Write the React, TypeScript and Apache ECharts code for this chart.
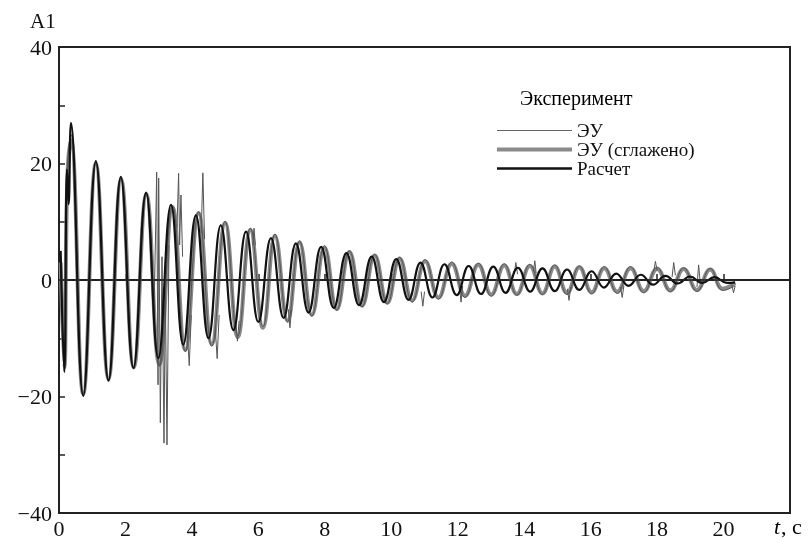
import React, { useEffect, useRef } from "react";
import * as echarts from "echarts";

// x-axis tick values (s) and y-axis tick values
const xTickValues = [0, 2, 4, 6, 8, 10, 12, 14, 16, 18, 20];
const yLabelValues = [-40, -20, 0, 20, 40];

// Расчет (calculation): peaks / troughs [t, A1]
const calcPts: [number, number][] = [
  [0.05, 5], [0.16, -15.8], [0.24, 19], [0.29, 13], [0.36, 27], [0.73, -19.9],
  [1.11, 20.4], [1.49, -17.3], [1.86, 17.7], [2.24, -15.1], [2.62, 15.0],
  [2.99, -13.4], [3.37, 12.9], [3.74, -11.1], [4.12, 11.1], [4.5, -10.0],
  [4.87, 9.4], [5.25, -8.6], [5.63, 8.3], [6.0, -7.2], [6.38, 7.2], [6.76, -6.5],
  [7.13, 6.3], [7.51, -5.6], [7.89, 5.7], [8.27, -4.8], [8.65, 4.6], [9.03, -4.3],
  [9.41, 4.0], [9.78, -3.8], [10.15, 3.6], [10.52, -3.4], [10.88, 3.0],
  [11.24, -3.0], [11.6, 2.7], [11.97, -2.6], [12.33, 2.4], [12.7, -2.4],
  [13.07, 2.3], [13.44, -2.2], [13.81, 2.1], [14.18, -2.0], [14.55, 2.0],
  [14.92, -1.9], [15.29, 1.8], [15.66, -1.7], [16.03, 1.5], [16.4, -1.3],
  [16.77, 1.1], [17.14, -1.0], [17.51, 0.9], [17.88, -0.8], [18.25, 0.7],
  [18.62, -0.6], [18.99, 0.6], [19.36, -0.5], [19.73, 0.5], [20.1, -0.5],
  [20.35, -0.4],
];

// ЭУ (сглажено): smoothed experiment, peaks / troughs [t, A1]
const smoothPts: [number, number][] = [
  [0.05, 3], [0.16, -15], [0.25, 17], [0.36, 24], [0.73, -19.5], [1.11, 20],
  [1.49, -17], [1.87, 17.3], [2.25, -15], [2.63, 14.7], [3.02, -14.5],
  [3.42, 12.5], [3.8, -12], [4.2, 11.5], [4.6, -11], [5.0, 9.8],
  [5.38, -9.8], [5.76, 8.6], [6.14, -8.2], [6.5, 7.6], [6.88, -7],
  [7.24, 6.5], [7.61, -6.0], [7.99, 5.6], [8.36, -5.0], [8.74, 4.8],
  [9.12, -4.4], [9.5, 4.2], [9.88, -3.9], [10.25, 3.7], [10.63, -3.5],
  [11.02, 3.2], [11.42, -3.0], [11.82, 2.8], [12.22, -2.7], [12.62, 2.6],
  [13.01, -2.5], [13.4, 2.5], [13.78, -2.4], [14.17, 2.4], [14.55, -2.3],
  [14.92, 2.3], [15.29, -2.2], [15.66, 2.2], [16.03, -2.1], [16.41, 2.0],
  [16.8, -2.0], [17.2, 2.0], [17.6, -1.9], [18.0, 1.9], [18.4, -1.8],
  [18.8, 1.9], [19.2, -1.7], [19.6, 1.8], [19.98, -1.5], [20.35, -0.5],
];

// ЭУ (raw experiment): the same oscillation as read, slightly noisier peaks
const rawPts: [number, number][] = [
  [0.05, 4], [0.16, -15.5], [0.24, 18], [0.36, 25], [0.73, -19.6], [1.11, 20.2],
  [1.49, -17.1], [1.87, 17.5], [2.25, -15.2], [2.63, 14.8], [3.02, -14.8],
  [3.42, 12.8], [3.8, -12.3], [4.2, 11.7], [4.6, -11.4], [5.0, 10.1],
  [5.38, -9.6], [5.76, 8.9], [6.14, -8.0], [6.5, 7.9], [6.88, -7.2],
  [7.24, 6.7], [7.61, -6.2], [7.99, 5.9], [8.36, -5.2], [8.74, 5.0],
  [9.12, -4.6], [9.5, 4.4], [9.88, -4.1], [10.25, 3.9], [10.63, -3.8],
  [11.02, 3.5], [11.42, -3.3], [11.82, 3.1], [12.22, -3.0], [12.62, 2.9],
  [13.01, -2.8], [13.4, 2.8], [13.78, -2.6], [14.17, 2.7], [14.55, -2.5],
  [14.92, 2.6], [15.29, -2.5], [15.66, 2.4], [16.03, -2.4], [16.41, 2.3],
  [16.8, -2.3], [17.2, 2.3], [17.6, -2.2], [18.0, 2.2], [18.4, -2.0],
  [18.8, 2.1], [19.2, -2.0], [19.6, 2.0], [19.98, -1.8], [20.35, -1.0],
];

// spikes of the raw signal, each a short polyline [t, A1]
const rawSpikes: [number, number][][] = [
  [[2.86, -6], [2.94, 18.5], [2.98, -18], [3.0, 17.5], [3.05, -24.5], [3.1, 4], [3.16, -28], [3.2, -2], [3.25, -28.3], [3.31, 6]],
  [[3.55, 9], [3.6, 18.3], [3.63, 6], [3.67, 14.6], [3.72, 4]],
  [[3.84, -7], [3.92, -14.7], [3.98, -6]],
  [[4.28, 8], [4.33, 18.4], [4.38, 7]],
  [[4.7, -8], [4.76, -13.5], [4.82, -6]],
  [[5.32, -7], [5.37, -10.5], [5.42, -7]],
  [[5.83, 6], [5.87, 8.9], [5.91, 6]],
  [[6.9, -5], [6.95, -8.2], [7.0, -5]],
  [[10.9, -2], [10.95, -4.5], [11.0, -2]],
  [[12.05, -1], [12.1, -3.8], [12.15, -1]],
  [[13.7, 1], [13.75, 3.0], [13.8, 1]],
  [[14.28, 1.5], [14.32, 3.3], [14.36, 1.2]],
  [[15.3, -1.5], [15.35, -3.5], [15.4, -1.2]],
  [[16.9, -1.2], [16.95, -3.0], [17.0, -1.0]],
  [[17.9, 1.5], [17.95, 3.2], [18.0, 1.6]],
  [[18.45, 0.5], [18.5, 3.0], [18.55, 0.8]],
  [[19.2, -1.2], [19.25, 2.6], [19.3, -0.6]],
  [[20.25, -0.8], [20.3, -2.2], [20.35, -1.0]],
];

export default function App() {
  const ref = useRef<HTMLDivElement>(null);
  useEffect(() => {
    if (!ref.current) return;
    const chart = echarts.init(ref.current, undefined, { renderer: "svg" });

    const spikeData: any[] = [];
    rawSpikes.forEach((s) => {
      s.forEach((p) => spikeData.push(p));
      spikeData.push(null);
    });

    const option: any = {
      animation: false,
      grid: {
        left: 59,
        right: 18,
        top: 47,
        bottom: 28,
        show: true,
        borderColor: "#222",
        borderWidth: 2,
      },
      legend: {
        orient: "vertical",
        left: 495,
        top: 121,
        padding: 0,
        itemWidth: 75,
        itemHeight: 17,
        itemGap: 0,
        selectedMode: false,
        itemStyle: { opacity: 0 },
        data: [
          { name: "ЭУ", lineStyle: { width: 1.2, color: "#666" } },
          { name: "ЭУ (сглажено)", lineStyle: { width: 4, color: "#8a8a8a" } },
          { name: "Расчет", lineStyle: { width: 2.4, color: "#111" } },
        ],
        textStyle: { fontFamily: "Liberation Serif", fontSize: 19, color: "#111" },
      },
      xAxis: {
        type: "value",
        min: 0,
        max: 22,
        interval: 2,
        axisLine: { show: true, lineStyle: { color: "#222", width: 2 } },
        axisTick: {
          show: true,
          inside: true,
          length: 6,
          lineStyle: { color: "#222", width: 1.5 },
        },
        axisLabel: {
          margin: 4,
          fontFamily: "Liberation Serif",
          fontSize: 22,
          color: "#111",
          formatter: (v: number) => (xTickValues.indexOf(v) >= 0 ? String(v) : ""),
        },
        splitLine: { show: false },
      },
      yAxis: {
        type: "value",
        min: -40,
        max: 40,
        interval: 10,
        axisLine: { show: true, lineStyle: { color: "#222", width: 2 } },
        axisTick: {
          show: true,
          inside: true,
          length: 6,
          lineStyle: { color: "#222", width: 1.5 },
        },
        axisLabel: {
          margin: 7,
          fontFamily: "Liberation Serif",
          fontSize: 22,
          color: "#111",
          formatter: (v: number) =>
            yLabelValues.indexOf(v) >= 0 ? (v < 0 ? "\u2212" + String(-v) : String(v)) : "",
        },
        splitLine: { show: false },
      },
      graphic: [
        {
          type: "text",
          left: 30,
          top: 10,
          style: { text: "A1", fontFamily: "Liberation Serif", fontSize: 21, fill: "#111" },
        },
        {
          type: "text",
          left: 520,
          top: 88,
          style: { text: "Эксперимент", fontFamily: "Liberation Serif", fontSize: 20 },
        },
        {
          type: "text",
          left: 774,
          top: 515,
          style: { text: "t", fontFamily: "Liberation Serif", fontStyle: "italic", fontSize: 22 },
        },
        {
          type: "text",
          left: 781,
          top: 515,
          style: { text: ", c", fontFamily: "Liberation Serif", fontSize: 22 },
        },
      ],
      series: [
        {
          name: "ЭУ (сглажено)",
          type: "line",
          data: smoothPts,
          smooth: 0.45,
          symbol: "none",
          lineStyle: { color: "#8a8a8a", width: 4 },
          itemStyle: { color: "#8a8a8a" },
          z: 2,
        },
        {
          name: "ЭУ",
          type: "line",
          data: rawPts,
          smooth: 0.45,
          symbol: "none",
          lineStyle: { color: "#555", width: 1 },
          itemStyle: { color: "#555" },
          z: 3,
        },
        {
          name: "ЭУ",
          type: "line",
          data: spikeData,
          smooth: false,
          connectNulls: false,
          symbol: "none",
          lineStyle: { color: "#555", width: 1 },
          itemStyle: { color: "#555" },
          z: 3,
        },
        {
          name: "Расчет",
          type: "line",
          data: calcPts,
          smooth: 0.45,
          symbol: "none",
          lineStyle: { color: "#111", width: 2.2 },
          itemStyle: { color: "#111" },
          z: 4,
          markLine: {
            silent: true,
            symbol: "none",
            label: { show: false },
            lineStyle: { color: "#222", width: 1.5, type: "solid" },
            data: [{ yAxis: 0 }],
          },
        },
      ],
    };
    chart.setOption(option);
    return () => chart.dispose();
  }, []);

  return <div ref={ref} style={{ position: "fixed", left: 0, top: 0, width: 808, height: 541 }} />;
}
